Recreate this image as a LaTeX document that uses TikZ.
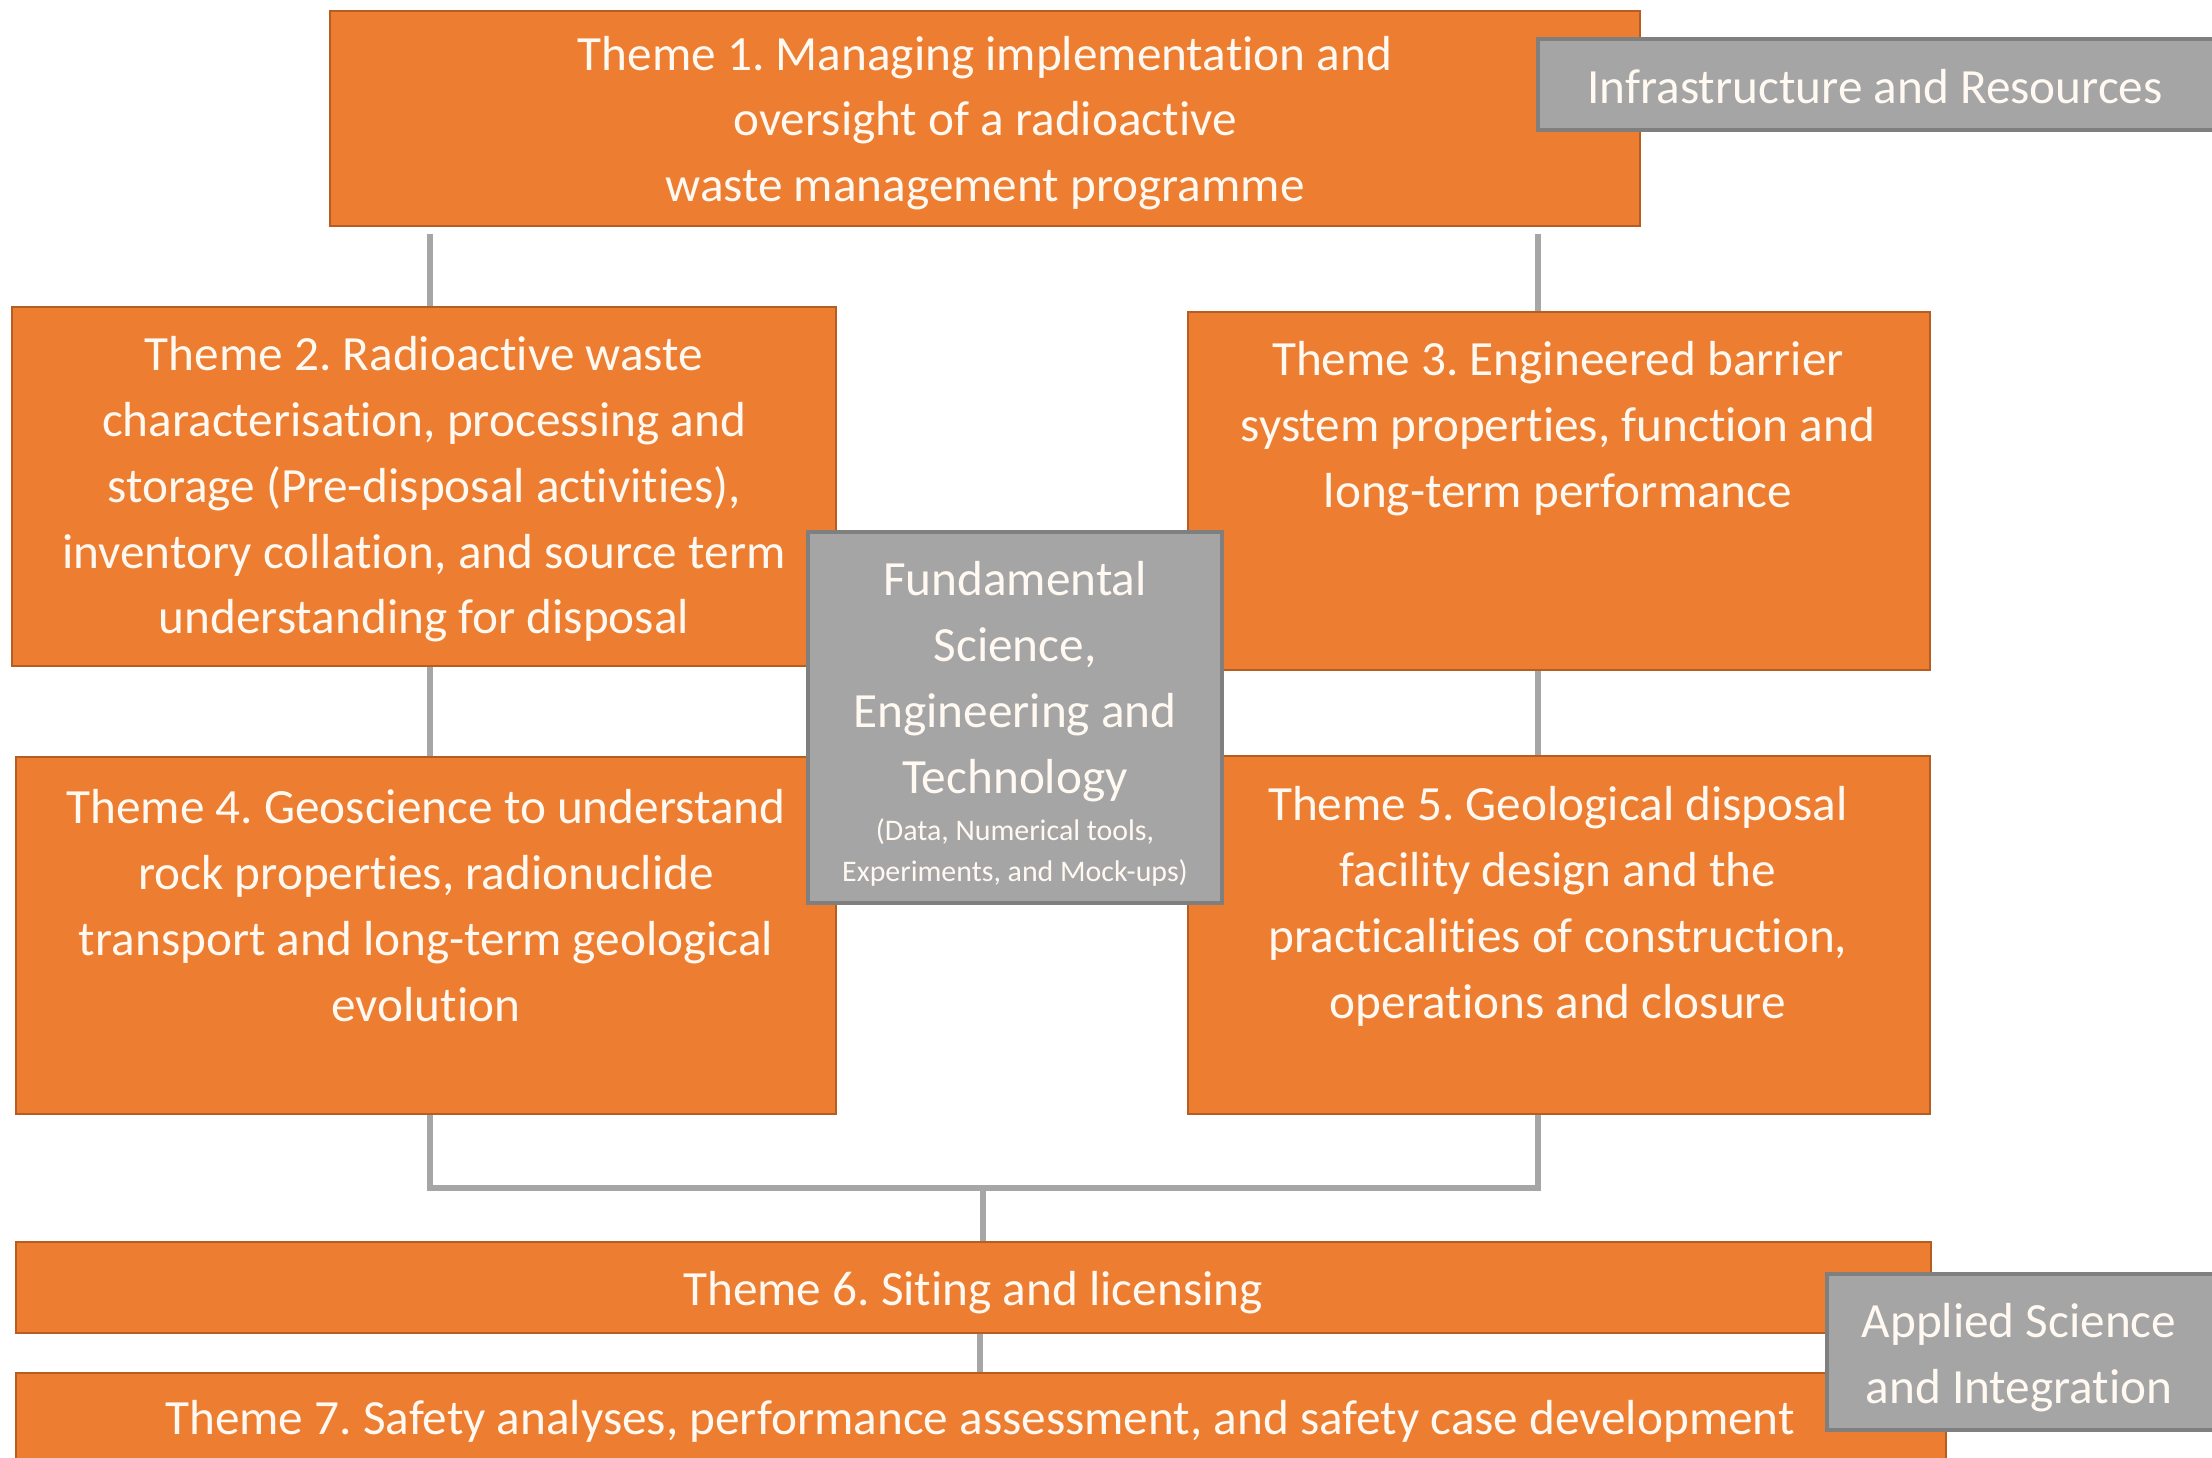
\documentclass[tikz,border=0pt]{standalone}
\usepackage{fontspec}
\setmainfont{Carlito}[Ligatures=NoCommon]
\frenchspacing
\usetikzlibrary{fit}
\definecolor{orng}{HTML}{ED7D31}
\definecolor{orngdk}{HTML}{B65D22}
\definecolor{gry}{HTML}{A5A5A5}
\definecolor{grydk}{HTML}{7F7F7F}
\definecolor{conncol}{HTML}{A6A6A6}
\definecolor{txtcol}{HTML}{FFF9F2}
\begin{document}
\begin{tikzpicture}[x=0.01cm,y=-0.01cm,
 obox/.style={fill=orng,draw=orngdk,line width=0.7pt,inner sep=0pt},
 gbox/.style={fill=gry,draw=grydk,line width=0.9pt,inner sep=0pt},
 txt/.style={text=txtcol,align=center,font=\fontsize{14}{18.7}\selectfont,inner sep=0pt},
 smalltxt/.style={text=txtcol,align=center,font=\fontsize{8.5}{11.6}\selectfont,inner sep=0pt},
 conn/.style={draw=conncol,line width=1.5pt}]
\clip (0,0) rectangle (2212,1458);
\fill[white] (0,0) rectangle (2212,1458);
% helper coordinates
\coordinate (L) at (430,0);
\coordinate (R) at (1538,0);
\coordinate (M) at (983,0);
\coordinate (M2) at (980,0);
\coordinate (H) at (0,1188);
% boxes
\node[obox, fit={(330,11) (1640,226)}] (t1) {};
\node[gbox, fit={(1538,39) (2240,130)}] (infra) {};
\node[obox, fit={(12,307) (836,666)}] (t2) {};
\node[obox, fit={(1188,312) (1930,670)}] (t3) {};
\node[obox, fit={(16,757) (836,1114)}] (t4) {};
\node[obox, fit={(1188,756) (1930,1114)}] (t5) {};
\node[gbox, fit={(808,532) (1222,903)}] (fund) {};
\node[obox, fit={(16,1242) (1931,1333)}] (t6) {};
\node[obox, fit={(16,1373) (1946,1500)}] (t7) {};
\node[gbox, fit={(1827,1274) (2240,1430)}] (appl) {};
% texts
\node[txt] (t1txt) at (985,123) {Theme 1. Managing implementation and\\oversight of a radioactive\\waste management programme};
\node[txt] (infratxt) at (1875,87) {Infrastructure and Resources};
\node[txt] (t2txt) at (424,489.5) {Theme 2. Radioactive waste\\characterisation, processing and\\storage (Pre-disposal activities),\\inventory collation, and source term\\understanding for disposal};
\node[txt] (t3txt) at (1558,428.5) {Theme 3. Engineered barrier\\system properties, function and\\long-term performance};
\node[txt] (t4txt) at (426,905.5) {Theme 4. Geoscience to understand\\rock properties, radionuclide\\transport and long-term geological\\evolution};
\node[txt] (t5txt) at (1558,906.5) {Theme 5. Geological disposal\\facility design and the\\practicalities of construction,\\operations and closure};
\node[txt] (fundtxt) at (1015,681.5) {Fundamental\\Science,\\Engineering and\\Technology};
\node[smalltxt] (fundsmall) at (1015,852.5) {(Data, Numerical tools,\\Experiments, and Mock-ups)};
\node[txt] (t6txt) at (973,1293) {Theme 6. Siting and licensing};
\node[txt] (t7txt) at (980,1421) {Theme 7. Safety analyses, performance assessment, and safety case development};
\node[txt] (appltxt) at (2019,1358) {Applied Science\\and Integration};
% connectors
\draw[conn] ([yshift=-0.07cm]t1.south -| L) -- (t2.north -| L);
\draw[conn] ([yshift=-0.07cm]t1.south -| R) -- (t3.north -| R);
\draw[conn] (t2.south -| L) -- (t4.north -| L);
\draw[conn] (t3.south -| R) -- (t5.north -| R);
\draw[conn] (t4.south -| L) -- (L |- H) -- (R |- H) -- (t5.south -| R);
\draw[conn] (M |- H) -- (t6.north -| M);
\draw[conn] (t6.south -| M2) -- (t7.north -| M2);
\end{tikzpicture}
\end{document}
